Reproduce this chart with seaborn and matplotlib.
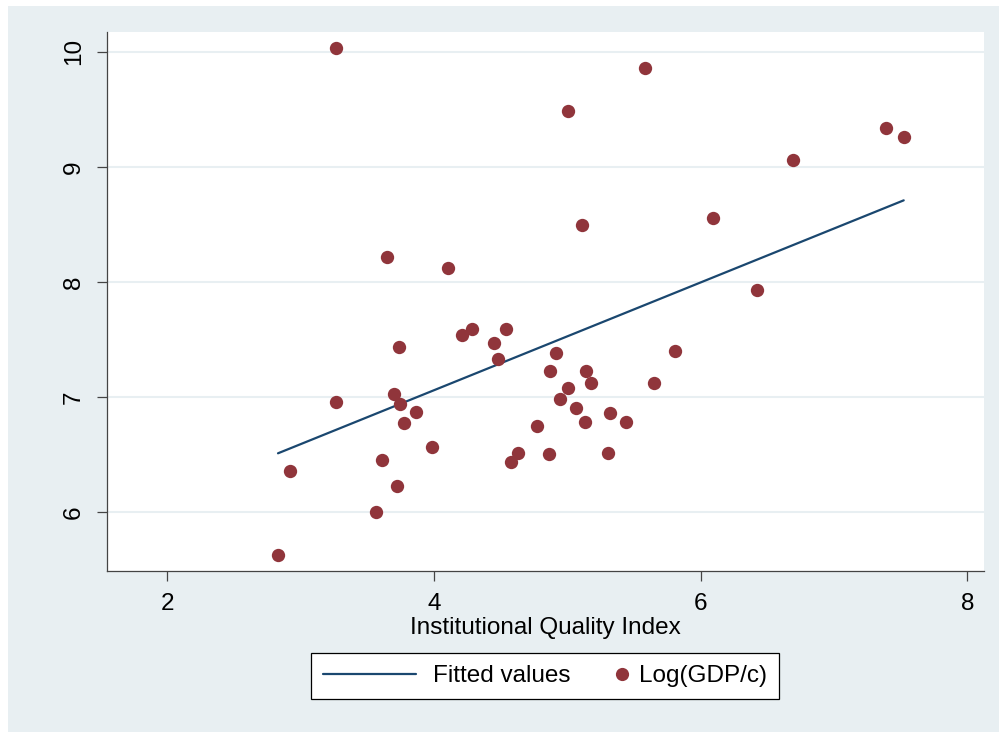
import numpy as np
import pandas as pd
import matplotlib
matplotlib.use("Agg")
import matplotlib.pyplot as plt
import seaborn as sns
from matplotlib.lines import Line2D
from matplotlib.patches import Rectangle
from matplotlib.legend_handler import HandlerLine2DCompound

# institutional quality index (x) and log GDP per capita (y)
iqi = [3.265, 5.583, 5.006, 7.388, 7.523, 6.690, 5.111, 6.095, 3.649, 4.106,
       6.423, 4.214, 4.284, 4.541, 4.451, 3.739, 4.479, 4.914, 5.808, 4.873,
       5.141, 5.181, 5.648, 5.008, 3.265, 3.699, 3.744, 3.869, 4.944, 5.066,
       5.321, 3.774, 5.133, 5.443, 3.987, 4.776, 4.631, 4.581, 4.866, 5.308,
       3.612, 2.920, 3.724, 3.567, 2.832]
log_gdp = [10.035, 9.858, 9.485, 9.337, 9.256, 9.062, 8.497, 8.553, 8.217, 8.121,
           7.930, 7.539, 7.591, 7.591, 7.472, 7.437, 7.328, 7.380, 7.402, 7.226,
           7.223, 7.124, 7.122, 7.076, 6.957, 7.029, 6.937, 6.872, 6.980, 6.907,
           6.859, 6.774, 6.780, 6.780, 6.566, 6.751, 6.516, 6.435, 6.502, 6.511,
           6.453, 6.357, 6.227, 6.001, 5.625]

x_ticks = [2, 4, 6, 8]
y_ticks = [6, 7, 8, 9, 10]

df = pd.DataFrame({"iqi": iqi, "lgdp": log_gdp})

navy = "#1A476F"
maroon = "#90353B"
panel = "#E8EFF2"
fs = 17.5

sns.set_theme(style="white")
plt.rcParams["font.family"] = ["Liberation Sans", "DejaVu Sans"]

fig = plt.figure(figsize=(9.99, 7.32), dpi=100)
fig.patch.set_facecolor("white")
fig.add_artist(Rectangle((8 / 999, 0), 991 / 999, 726 / 732, transform=fig.transFigure,
                         facecolor=panel, edgecolor="none", zorder=0))

ax = fig.add_axes([107 / 999, 1 - 571 / 732, 877 / 999, 539 / 732])
ax.set_facecolor("white")

# fitted values line (OLS) then the points on top
sns.regplot(data=df, x="iqi", y="lgdp", scatter=False, ci=None, ax=ax,
            line_kws=dict(color=navy, lw=1.6, zorder=2))
sns.scatterplot(data=df, x="iqi", y="lgdp", color=maroon, s=92, linewidth=0,
                ax=ax, zorder=3, legend=False)

ax.set_xlim(1.55, 8.125)
ax.set_ylim(5.488, 10.171)
ax.set_xticks(x_ticks)
ax.set_yticks(y_ticks)
ax.set_xticklabels([str(t) for t in x_ticks], fontsize=fs)
ax.set_yticklabels([str(t) for t in y_ticks], fontsize=fs, rotation=90, va="center")
ax.tick_params(axis="both", direction="out", length=7, width=0.9, color="#444444",
               labelcolor="black", pad=9, bottom=True, left=True)
ax.yaxis.grid(True, color=panel, lw=1.5, zorder=0)
ax.xaxis.grid(False)
ax.set_axisbelow(True)

for side in ["top", "right"]:
    ax.spines[side].set_visible(False)
for side in ["left", "bottom"]:
    ax.spines[side].set_color("#444444")
    ax.spines[side].set_linewidth(0.9)

ax.set_xlabel("Institutional Quality Index", fontsize=fs, labelpad=1, color="black")
ax.set_ylabel("")


class EndMarker(HandlerLine2DCompound):
    # put the dot at the right end of its handle box, next to the text
    def get_xdata(self, legend, xdescent, ydescent, width, height, fontsize):
        return (np.array([-xdescent, width - xdescent]),
                np.array([width - xdescent]))


line_h = Line2D([], [], color=navy, lw=1.6)
dot_h = Line2D([], [], color=maroon, marker="o", markersize=9.5, linestyle="none",
               markeredgewidth=0)
leg = fig.legend([line_h, dot_h], ["Fitted values", "Log(GDP/c)"],
                 loc="center", bbox_to_anchor=(545 / 999, 1 - 676 / 732),
                 ncol=2, fontsize=fs, frameon=True, fancybox=False,
                 handlelength=3.83, handletextpad=0.7, columnspacing=-1.69,
                 borderpad=0.5, handler_map={dot_h: EndMarker()})
for t in leg.get_texts():
    t.set_color("black")
leg.get_frame().set_edgecolor("black")
leg.get_frame().set_linewidth(0.9)
leg.get_frame().set_facecolor("white")
leg.get_frame().set_alpha(1)

fig.savefig("out.png", dpi=100, facecolor=fig.get_facecolor())
